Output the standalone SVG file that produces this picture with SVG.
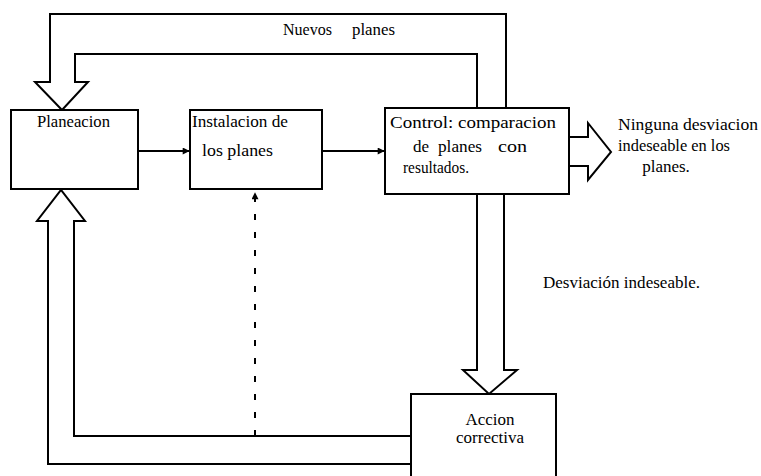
<svg xmlns="http://www.w3.org/2000/svg" width="761" height="476" viewBox="0 0 761 476">
<defs>
<style>
.box{fill:#fff;stroke:#000;stroke-width:2}
.ln{fill:none;stroke:#000;stroke-width:2;stroke-linejoin:miter}
.t{font-family:'Liberation Serif','Times New Roman','DejaVu Serif',Times,serif;font-size:17px;fill:#000}
</style>
<marker id="ah" viewBox="0 0 10 10" refX="9" refY="5" markerWidth="8" markerHeight="7" markerUnits="userSpaceOnUse" orient="auto">
<path d="M0,0 L10,5 L0,10 z" fill="#000"/>
</marker>
</defs>
<rect width="761" height="476" fill="#fff"/>
<g id="connectors">
<path class="ln" d="M506,108 V14 H50 V82 H35 L62,110 L88,82 H75 V54 H477 V108"/>
<path class="ln" d="M411,464 H48 V221 H37 L61,190 L85,221 H74 V436 H411"/>
<path class="ln" d="M477,194 V370 H463 L489,394 L517,370 H504 V194"/>
<path class="ln" d="M569,137 H588 V123 L611,152 L588,180 V166 H569"/>
<line class="ln" x1="138" y1="151" x2="189" y2="151" marker-end="url(#ah)"/>
<line class="ln" x1="322" y1="151" x2="384" y2="151" marker-end="url(#ah)"/>
<line class="ln" x1="255" y1="436" x2="255" y2="193" stroke-dasharray="6 12" marker-end="url(#ah)"/>
<text class="t" font-family="Liberation Serif, serif"><tspan x="283" y="35" textLength="49" lengthAdjust="spacingAndGlyphs">Nuevos</tspan><tspan x="352" y="35" textLength="43" lengthAdjust="spacingAndGlyphs">planes</tspan></text>
<text class="t" font-family="Liberation Serif, serif" x="618" y="130" textLength="140" lengthAdjust="spacingAndGlyphs">Ninguna desviacion</text>
<text class="t" font-family="Liberation Serif, serif" x="618" y="151" textLength="112" lengthAdjust="spacingAndGlyphs">indeseable en los</text>
<text class="t" font-family="Liberation Serif, serif" x="666" y="172" text-anchor="middle">planes.</text>
<text class="t" font-family="Liberation Serif, serif" x="543" y="288" textLength="157" lengthAdjust="spacingAndGlyphs">Desviación indeseable.</text>
</g>
<g id="planeacion">
<rect class="box" x="11" y="110" width="127" height="79"/>
<text class="t" font-family="Liberation Serif, serif" x="37" y="127" textLength="73" lengthAdjust="spacingAndGlyphs">Planeacion</text>
</g>
<g id="instalacion">
<rect class="box" x="190" y="110" width="132" height="79"/>
<text class="t" font-family="Liberation Serif, serif" x="192" y="127" textLength="96" lengthAdjust="spacingAndGlyphs">Instalacion de</text>
<text class="t" font-family="Liberation Serif, serif" x="202" y="156" textLength="71" lengthAdjust="spacingAndGlyphs">los planes</text>
</g>
<g id="control">
<rect class="box" x="385" y="108" width="184" height="86"/>
<text class="t" font-family="Liberation Serif, serif" x="390" y="128" textLength="166" lengthAdjust="spacingAndGlyphs">Control: comparacion</text>
<text class="t" font-family="Liberation Serif, serif"><tspan x="413" y="152">de</tspan><tspan x="438" y="152" textLength="44" lengthAdjust="spacingAndGlyphs">planes</tspan><tspan x="498" y="152" textLength="29" lengthAdjust="spacingAndGlyphs">con</tspan></text>
<text class="t" font-family="Liberation Serif, serif" x="403" y="173" textLength="66" lengthAdjust="spacingAndGlyphs">resultados.</text>
</g>
<g id="accion">
<rect class="box" x="411" y="394" width="145" height="100"/>
<text class="t" font-family="Liberation Serif, serif" x="490" y="425" text-anchor="middle">Accion</text>
<text class="t" font-family="Liberation Serif, serif" x="490" y="443" text-anchor="middle">correctiva</text>
</g>
</svg>
